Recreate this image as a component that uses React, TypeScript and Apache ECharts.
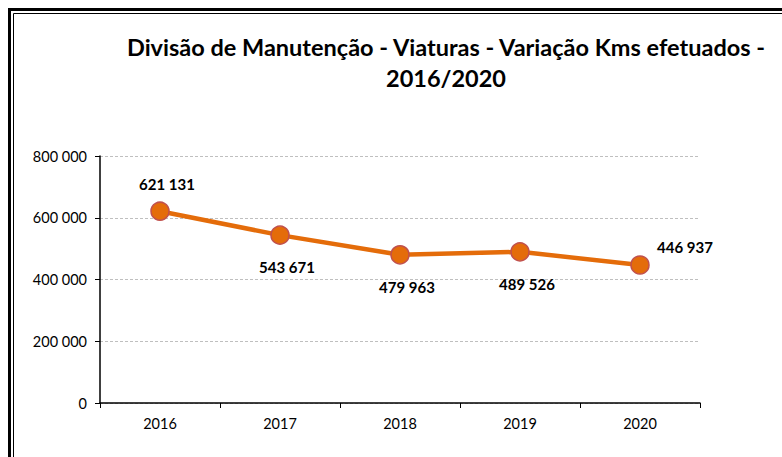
import React, { useEffect, useRef } from "react";
import * as echarts from "echarts";

const categories = ["2016", "2017", "2018", "2019", "2020"];
const kms = [621131, 543671, 479963, 489526, 446937];
const labelPlacement = ["top", "bottom", "bottom", "bottom", "topRight"];
const yTicks = { min: 0, max: 800000, interval: 200000 };

const fmt = (v: number) => String(Math.round(v)).replace(/\B(?=(\d{3})+(?!\d))/g, " ");

const FONT = "Lato, 'Open Sans', sans-serif";

export default function App() {
  const ref = useRef<HTMLDivElement>(null);
  useEffect(() => {
    if (!ref.current) return;
    const chart = echarts.init(ref.current, undefined, { renderer: "svg" });
    const data = kms.map((v, i) => {
      const p = labelPlacement[i];
      let label: any;
      if (p === "top") label = { position: "top", offset: [7, -5] };
      else if (p === "bottom") label = { position: "bottom", offset: [7, 10] };
      else label = { position: "top", offset: [45, 4] };
      return { value: v, label };
    });
    chart.setOption({
      animation: false,
      backgroundColor: "#ffffff",
      textStyle: { fontFamily: FONT },
      title: {
        text: "Divisão de Manutenção - Viaturas - Variação Kms efetuados -\n2016/2020",
        left: 441,
        top: 26,
        textAlign: "center",
        textStyle: {
          fontFamily: FONT,
          fontWeight: "bold",
          fontSize: 23.5,
          lineHeight: 31,
          color: "#000000",
        },
      },
      graphic: [
        {
          type: "rect",
          shape: { x: 9.5, y: 9.5, width: 800, height: 500 },
          style: { fill: "none", stroke: "#000000", lineWidth: 3 },
          silent: true,
        },
        {
          type: "rect",
          shape: { x: 13.5, y: 13.5, width: 800, height: 500 },
          style: { fill: "none", stroke: "#000000", lineWidth: 1 },
          silent: true,
        },
      ],
      grid: { left: 100, right: 82, top: 156, bottom: 54 },
      xAxis: {
        type: "category",
        data: categories,
        boundaryGap: true,
        axisLine: { show: true, lineStyle: { color: "#000000", width: 1.5 } },
        axisTick: { show: true, alignWithLabel: false, length: 5, lineStyle: { color: "#000000" } },
        axisLabel: { color: "#000000", fontSize: 14.5, margin: 13, fontFamily: FONT },
        splitLine: { show: false },
      },
      yAxis: {
        type: "value",
        min: yTicks.min,
        max: yTicks.max,
        interval: yTicks.interval,
        axisLine: { show: true, lineStyle: { color: "#000000", width: 1.5 } },
        axisTick: { show: true, length: 5, lineStyle: { color: "#000000" } },
        axisLabel: {
          color: "#000000",
          fontSize: 14.5,
          margin: 13,
          fontFamily: FONT,
          formatter: (v: number) => fmt(v),
        },
        splitLine: { show: true, lineStyle: { color: "#BFBFBF", type: [3, 2], width: 1 } },
      },
      series: [
        {
          type: "line",
          data,
          symbol: "circle",
          symbolSize: 18,
          lineStyle: { color: "#E46C0A", width: 4.5 },
          itemStyle: { color: "#E46C0A", borderColor: "#C0504D", borderWidth: 1.5 },
          label: {
            show: true,
            color: "#000000",
            fontWeight: "bold",
            fontSize: 15,
            fontFamily: FONT,
            formatter: (p: any) => fmt(p.value),
          },
        },
      ],
    });
    return () => chart.dispose();
  }, []);
  return (
    <div
      ref={ref}
      style={{ position: "fixed", left: 0, top: 0, width: 782, height: 457 }}
    />
  );
}
